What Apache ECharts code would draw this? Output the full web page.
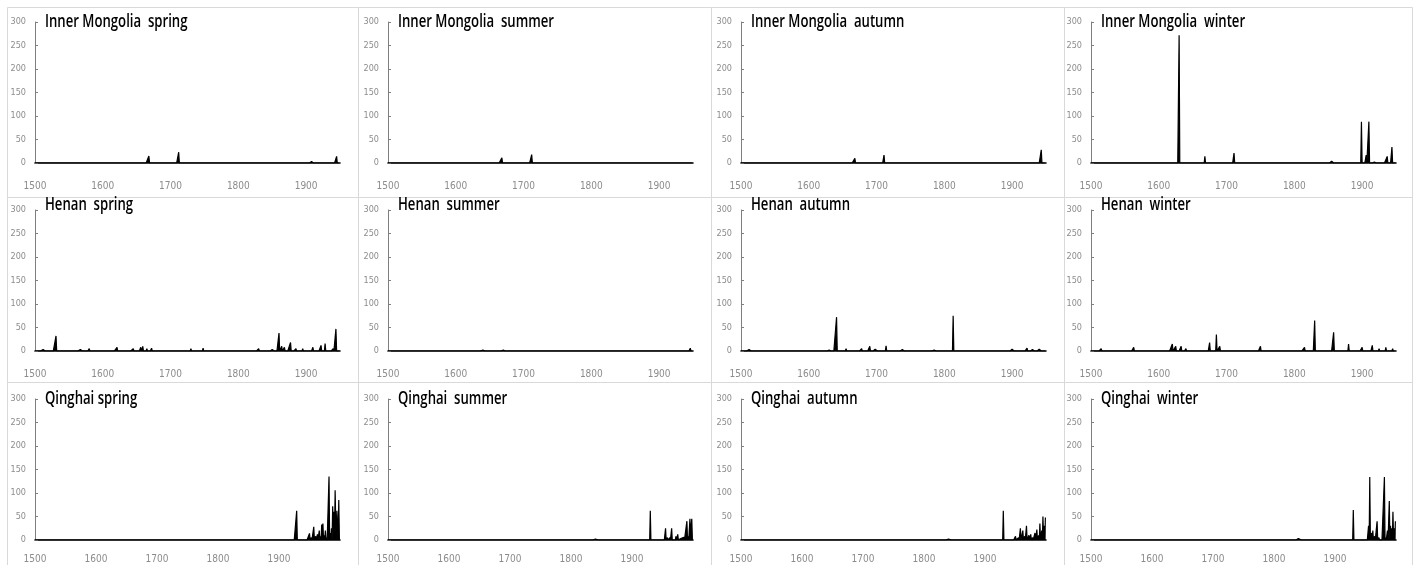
<!DOCTYPE html>
<html>
<head>
<meta charset="utf-8">
<script src="https://cdn.jsdelivr.net/npm/echarts@6/dist/echarts.min.js"></script>
<style>
html,body{margin:0;padding:0;background:#fff;}
#c{width:1419px;height:565px;}
</style>
</head>
<body>
<div id="c"></div>
<script>
// ---- data (year, value) spikes; all other years are 0 ----
const regions = ['Inner Mongolia', 'Henan', 'Qinghai'];
const seasons = ['spring', 'summer', 'autumn', 'winter'];
const panelTitles = [
  'Inner Mongolia  spring', 'Inner Mongolia  summer', 'Inner Mongolia  autumn', 'Inner Mongolia  winter',
  'Henan  spring', 'Henan  summer', 'Henan  autumn', 'Henan  winter',
  'Qinghai spring', 'Qinghai  summer', 'Qinghai  autumn', 'Qinghai  winter'
];
const yearStart = 1500;
const yearEndByRow = [1949, 1949, 1999];
const xMaxByRow = [1950, 1950, 2000];
const xTickLabels = [1500, 1600, 1700, 1800, 1900];
const yTickLabels = [0, 50, 100, 150, 200, 250, 300];

const imSpring = [[1668,15],[1712,23],[1908,3],[1929,3],[1945,14]];
const imSummer = [[1668,11],[1712,18]];
const imAutumn = [[1668,10],[1711,17],[1943,28]];
const imWinter = [[1630,272],[1668,14],[1711,21],[1855,4],[1899,88],[1906,17],[1910,88],[1918,2],[1937,14],[1944,34]];

const hnSpring = [[1512,3],[1531,32],[1550,2],[1567,3],[1580,5],[1590,3],[1610,3],[1621,8],[1640,4],[1645,5],[1656,8],[1659,10],[1665,5],[1672,6],[1690,3],[1730,5],[1748,6],[1787,4],[1810,3],[1830,5],[1850,3],[1860,38],[1864,10],[1868,8],[1877,18],[1885,5],[1895,5],[1910,8],[1922,12],[1928,16],[1940,5],[1944,47]];
const hnSummer = [[1640,2],[1670,2],[1895,2],[1946,6]];
const hnAutumn = [[1512,3],[1600,2],[1630,2],[1641,72],[1655,5],[1670,4],[1678,5],[1690,10],[1698,4],[1714,11],[1738,3],[1785,2],[1813,75],[1840,2],[1870,2],[1900,4],[1922,6],[1930,3],[1940,4]];
const hnWinter = [[1515,5],[1525,3],[1563,8],[1620,15],[1625,10],[1633,10],[1640,5],[1675,18],[1685,35],[1690,10],[1750,10],[1815,8],[1830,65],[1858,40],[1880,15],[1900,8],[1915,12],[1925,5],[1935,8],[1945,5]];

const qhSpring = [[1838,3],[1929,62],[1945,4],[1950,14],[1953,5],[1957,28],[1960,8],[1963,12],[1966,20],[1968,8],[1970,33],[1972,35],[1974,10],[1976,20],[1978,5],[1982,135],[1984,15],[1986,25],[1988,72],[1989,30],[1990,60],[1992,106],[1993,40],[1995,62],[1996,30],[1998,85]];
const qhSummer = [[1840,2],[1930,62],[1945,4],[1950,4],[1955,25],[1958,5],[1962,5],[1965,25],[1968,3],[1972,8],[1975,12],[1980,3],[1985,6],[1990,40],[1992,8],[1995,45],[1997,30],[1998,45]];
const qhAutumn = [[1840,2],[1930,62],[1942,3],[1950,8],[1955,5],[1958,25],[1962,20],[1965,8],[1968,30],[1972,10],[1975,12],[1978,5],[1982,15],[1985,22],[1988,10],[1990,35],[1993,20],[1995,50],[1997,30],[1999,48]];
const qhWinter = [[1653,3],[1840,3],[1930,64],[1938,3],[1945,3],[1950,3],[1955,30],[1957,134],[1960,15],[1962,20],[1965,8],[1969,40],[1972,5],[1981,134],[1983,5],[1986,20],[1989,83],[1991,30],[1993,25],[1995,60],[1997,25],[1999,40]];

const panelData = [
  imSpring, imSummer, imAutumn, imWinter,
  hnSpring, hnSummer, hnAutumn, hnWinter,
  qhSpring, qhSummer, qhAutumn, qhWinter
];

// ---- layout ----
const axisLeft = [35, 388, 741, 1091];
const plotWidth = 305;
const plotTop = [22, 210, 399];
const plotHeight = 141;
const boxX = [7, 358, 711, 1064, 1412];
const boxY = [7, 197, 382, 600];
const titleCenterY = [22, 205, 399];
const xLabelMargin = [18, 18, 14];

const FONT = '"Liberation Sans Narrow", "DejaVu Sans Condensed", "Open Sans", sans-serif';

function expand(spikes, endYear) {
  const m = new Map(spikes.map(p => [p[0], p[1]]));
  const out = [];
  for (let y = yearStart; y <= endYear; y++) out.push([y, m.has(y) ? m.get(y) : 0]);
  return out;
}

const grids = [], xAxes = [], yAxes = [], series = [], graphics = [];
for (let r = 0; r < 3; r++) {
  for (let c = 0; c < 4; c++) {
    const i = r * 4 + c;
    graphics.push({
      type: 'rect', silent: true, z: -1,
      shape: { x: boxX[c] + 0.5, y: boxY[r] + 0.5, width: boxX[c + 1] - boxX[c], height: boxY[r + 1] - boxY[r] },
      style: { fill: 'none', stroke: '#d9d9d9', lineWidth: 1 }
    });
    graphics.push({
      type: 'text', silent: true, z: 10,
      x: axisLeft[c] + 10, y: titleCenterY[r], scaleX: 0.73, scaleY: 1,
      style: {
        text: panelTitles[i],
        font: '600 18px "Open Sans", "Noto Sans", sans-serif',
        fill: '#000',
        verticalAlign: 'middle', textVerticalAlign: 'middle', align: 'left'
      }
    });
    grids.push({ left: axisLeft[c], top: plotTop[r], width: plotWidth, height: plotHeight, containLabel: false });
    xAxes.push({
      type: 'value', gridIndex: i, min: yearStart, max: xMaxByRow[r], interval: 100,
      axisLine: { show: true, onZero: false, lineStyle: { color: '#000', width: 1.6 } },
      axisTick: { show: false },
      splitLine: { show: false },
      axisLabel: {
        color: '#8c8c8c', fontSize: 10, fontFamily: FONT, margin: xLabelMargin[r],
        showMaxLabel: false,
        formatter: v => (xTickLabels.indexOf(v) >= 0 ? String(v) : '')
      }
    });
    yAxes.push({
      type: 'value', gridIndex: i, min: 0, max: 300, interval: 50,
      axisLine: { show: true, lineStyle: { color: '#7f7f7f', width: 1 } },
      axisTick: { show: true, inside: true, length: 3, lineStyle: { color: '#7f7f7f' } },
      splitLine: { show: false },
      axisLabel: {
        color: '#8c8c8c', fontSize: 9, fontFamily: FONT, margin: 9,
        formatter: v => (yTickLabels.indexOf(v) >= 0 ? String(v) : '')
      }
    });
    series.push({
      type: 'line', xAxisIndex: i, yAxisIndex: i,
      data: expand(panelData[i], yearEndByRow[r]),
      showSymbol: false, symbol: 'none', animation: false,
      lineStyle: { color: '#000', width: 1.2 },
      areaStyle: { color: '#000', opacity: 1 }
    });
  }
}

const chart = echarts.init(document.getElementById('c'), null, { renderer: 'canvas' });
chart.setOption({
  backgroundColor: '#fff',
  animation: false,
  grid: grids,
  xAxis: xAxes,
  yAxis: yAxes,
  series: series,
  graphic: graphics
});
</script>
</body>
</html>
